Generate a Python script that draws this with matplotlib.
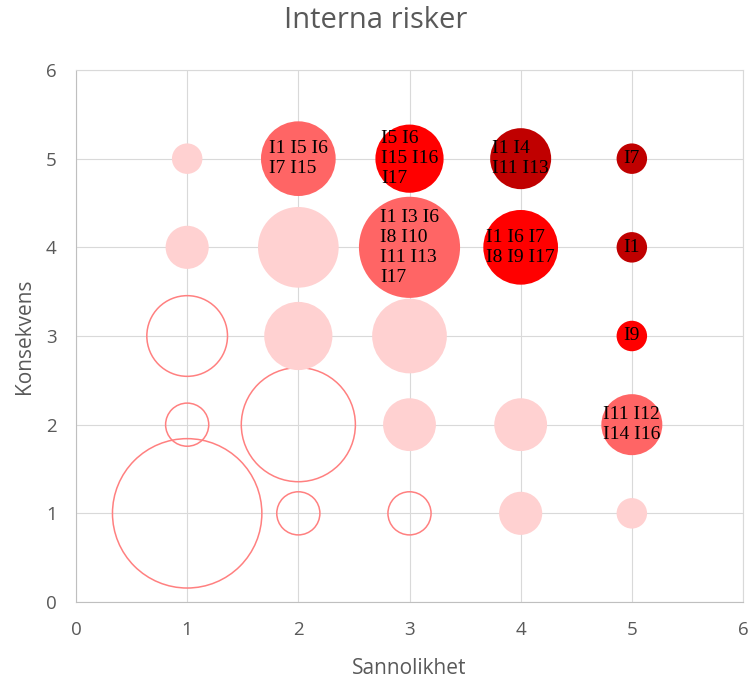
import matplotlib.pyplot as plt

# Riskmatris för interna risker: (sannolikhet, konsekvens, bubbelstorlek)
hollow_x = [1, 1, 1, 2, 2, 3]
hollow_y = [1, 2, 3, 1, 2, 1]
hollow_v = [24, 2, 7, 2, 14, 2]

pale_x = [1, 1, 2, 2, 3, 3, 4, 4, 5]
pale_y = [4, 5, 3, 4, 2, 3, 1, 2, 1]
pale_v = [2, 1, 5, 7, 3, 6, 2, 3, 1]

mid_x = [2, 3, 5]
mid_y = [5, 4, 2]
mid_v = [6, 11, 4]
mid_lbl = ["I1 I5 I6\nI7 I15", "I1 I3 I6\nI8 I10\nI11 I13\nI17", "I11 I12\nI14 I16"]

red_x = [3, 4, 5]
red_y = [5, 4, 3]
red_v = [5, 6, 1]
red_lbl = ["I5 I6\nI15 I16\nI17", "I1 I6 I7\nI8 I9 I17", "I9"]

dark_x = [4, 5, 5]
dark_y = [5, 5, 4]
dark_v = [4, 1, 1]
dark_lbl = ["I1 I4\nI11 I13", "I7", "I1"]

ticks = [0, 1, 2, 3, 4, 5, 6]

GREY = "#595959"
SCALE = 482  # punkter^2 per storleksenhet

fig = plt.figure(figsize=(7.52, 6.81), dpi=100)
ax = fig.add_axes([76 / 752, 1 - 602 / 681, (743 - 76) / 752, (602 - 70) / 681])

ax.scatter(hollow_x, hollow_y, s=[v * SCALE for v in hollow_v], facecolors="none",
           edgecolors="#FF8080", linewidths=1.1, zorder=2)
ax.scatter(pale_x, pale_y, s=[v * SCALE for v in pale_v], color="#FFD1D1",
           linewidths=0, zorder=3)
ax.scatter(mid_x, mid_y, s=[v * SCALE for v in mid_v], color="#FF6565",
           linewidths=0, zorder=4)
ax.scatter(red_x, red_y, s=[v * SCALE for v in red_v], color="#FF0000",
           linewidths=0, zorder=5)
ax.scatter(dark_x, dark_y, s=[v * SCALE for v in dark_v], color="#C00000",
           linewidths=0, zorder=6)

for xs, ys, lbls in [(mid_x, mid_y, mid_lbl), (red_x, red_y, red_lbl), (dark_x, dark_y, dark_lbl)]:
    for x, y, t in zip(xs, ys, lbls):
        ax.text(x, y, t, ha="center", va="center", multialignment="left",
                fontsize=14, family="Liberation Serif", color="black",
                linespacing=1.22, zorder=10)

ax.set_xlim(0, 6)
ax.set_ylim(0, 6)
ax.set_xticks(ticks)
ax.set_yticks(ticks)
ax.grid(True, color="#D9D9D9", linewidth=0.8, zorder=0)
ax.set_axisbelow(True)
for sp in ax.spines.values():
    sp.set_color("#D9D9D9")
    sp.set_linewidth(0.8)
ax.spines["left"].set_color("#BFBFBF")
ax.spines["bottom"].set_color("#BFBFBF")
ax.tick_params(length=0, labelsize=13.5, labelcolor=GREY, pad=14)
for lab in ax.get_xticklabels() + ax.get_yticklabels():
    lab.set_family("Open Sans")

ax.set_xlabel("Sannolikhet", fontsize=15, color=GREY, family="Open Sans", labelpad=13)
ax.set_ylabel("Konsekvens", fontsize=15, color=GREY, family="Open Sans", labelpad=8)
fig.text(0.5, 1 - 21 / 681, "Interna risker", ha="center", va="center",
         fontsize=21, color=GREY, family="Open Sans")

fig.savefig("out.png", dpi=100)
